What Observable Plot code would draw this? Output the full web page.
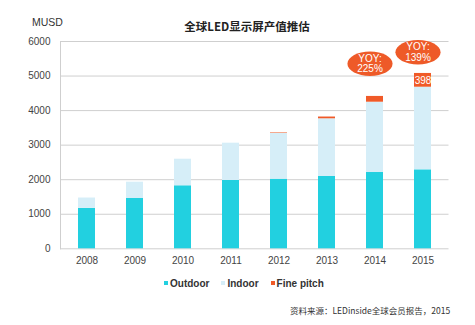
<!DOCTYPE html>
<html>
<head>
<meta charset="utf-8">
<script src="https://cdn.jsdelivr.net/npm/d3@7"></script>
<script src="https://cdn.jsdelivr.net/npm/@observablehq/plot@0.6"></script>
<style>
  html, body { margin: 0; padding: 0; background: #fff; }
  #wrap { position: relative; width: 475px; height: 325px; font-family: "Liberation Sans", Arial, sans-serif; }
  #chart { position: absolute; left: 0; top: 0; }
  .abs { position: absolute; white-space: nowrap; }
  #title { left: 0; width: 494px; top: 18px; text-align: center; font-family: "Noto Sans CJK SC", sans-serif; font-weight: bold; font-size: 11.5px; color: #222; }
  #unit { left: 32px; top: 16px; font-size: 10.5px; color: #333; }
  #legend { left: 164px; top: 278px; font-size: 10px; font-weight: bold; color: #333; display: flex; gap: 12px; }
  #legend span.sw { display: inline-block; width: 4px; height: 4px; margin-right: 2px; vertical-align: 2px; }
  #source { left: 290px; top: 304px; font-family: "Noto Sans CJK SC", sans-serif; font-size: 8.5px; color: #333; }
</style>
</head>
<body>
<div id="wrap">
  <div id="chart"></div>
  <div id="title" class="abs"></div>
  <div id="unit" class="abs"></div>
  <div id="legend" class="abs"></div>
  <div id="source" class="abs"></div>
</div>
<script>
const years = ["2008", "2009", "2010", "2011", "2012", "2013", "2014", "2015"];
const outdoor = [1170, 1456, 1824, 1977, 2015, 2093, 2208, 2286];
const indoor = [300, 472, 769, 1080, 1325, 1670, 2035, 2391];
const finePitch = [0, 0, 0, 0, 15, 51, 167, 398];
const seriesNames = ["Outdoor", "Indoor", "Fine pitch"];
const seriesColors = ["#22d0e0", "#d6eef8", "#f05a28"];
const yTicks = [0, 1000, 2000, 3000, 4000, 5000, 6000];
const yoyYears = ["2014", "2015"];
const yoyLabels = ["YOY:\n225%", "YOY:\n139%"];
const yoyLevel = [5355, 5690];
const labelYear = "2015";
const labelText = "398";
const titleText = "全球LED显示屏产值推估";
const unitText = "MUSD";
const sourceText = "资料来源：LEDinside全球会员报告，2015";

const rows = years.flatMap((yr, i) => [
  {year: yr, series: "Outdoor", value: outdoor[i]},
  {year: yr, series: "Indoor", value: indoor[i]},
  {year: yr, series: "Fine pitch", value: finePitch[i]}
]);

const idx = years.indexOf(labelYear);
const labelRows = [{year: labelYear, y: outdoor[idx] + indoor[idx] + finePitch[idx] / 2, text: labelText}];
const yoyRows = yoyYears.map((yr, i) => ({year: yr, y: yoyLevel[i], text: yoyLabels[i]}));

const ellipse = {
  draw(context, size) {
    const r = Math.sqrt(size / Math.PI);
    const rx = r * 1.85, ry = r, k = 0.5523;
    context.moveTo(rx, 0);
    context.bezierCurveTo(rx, ry * k, rx * k, ry, 0, ry);
    context.bezierCurveTo(-rx * k, ry, -rx, ry * k, -rx, 0);
    context.bezierCurveTo(-rx, -ry * k, -rx * k, -ry, 0, -ry);
    context.bezierCurveTo(rx * k, -ry, rx, -ry * k, rx, 0);
    context.closePath();
  }
};

const chart = Plot.plot({
  width: 475,
  height: 325,
  marginLeft: 60,
  marginRight: 26.5,
  marginTop: 41,
  marginBottom: 76.7,
  style: {fontFamily: "Liberation Sans, Arial, sans-serif", fontSize: "10px", color: "#444", background: "transparent"},
  x: {domain: years, paddingInner: 0.65, paddingOuter: 0.325, label: null, tickSize: 0, tickPadding: 8},
  y: {domain: [0, 6000], ticks: yTicks, label: null, tickSize: 0, tickPadding: 10, tickFormat: d => String(d)},
  color: {domain: seriesNames, range: seriesColors},
  marks: [
    Plot.gridY(yTicks, {stroke: "#cfcfcf", strokeOpacity: 1, strokeWidth: 1}),
    Plot.frame({anchor: "left", stroke: "#cfcfcf"}),
    Plot.barY(rows, {x: "year", y: "value", fill: "series"}),
    Plot.text(labelRows, {x: "year", y: "y", text: "text", fill: "white", fontSize: 10}),
    Plot.dot(yoyRows, {x: "year", y: "y", r: 12.2, symbol: ellipse, fill: "#ee5a28", stroke: "none", dx: -5}),
    Plot.text(yoyRows, {x: "year", y: "y", text: "text", fill: "white", fontSize: 10, lineHeight: 1.05, dx: -5})
  ]
});
document.getElementById("chart").appendChild(chart);

document.getElementById("title").textContent = titleText;
document.getElementById("unit").textContent = unitText;
document.getElementById("source").textContent = sourceText;
const leg = document.getElementById("legend");
seriesNames.forEach((name, i) => {
  const item = document.createElement("div");
  const sw = document.createElement("span");
  sw.className = "sw";
  sw.style.background = seriesColors[i];
  item.appendChild(sw);
  item.appendChild(document.createTextNode(name));
  leg.appendChild(item);
});
</script>
</body>
</html>
